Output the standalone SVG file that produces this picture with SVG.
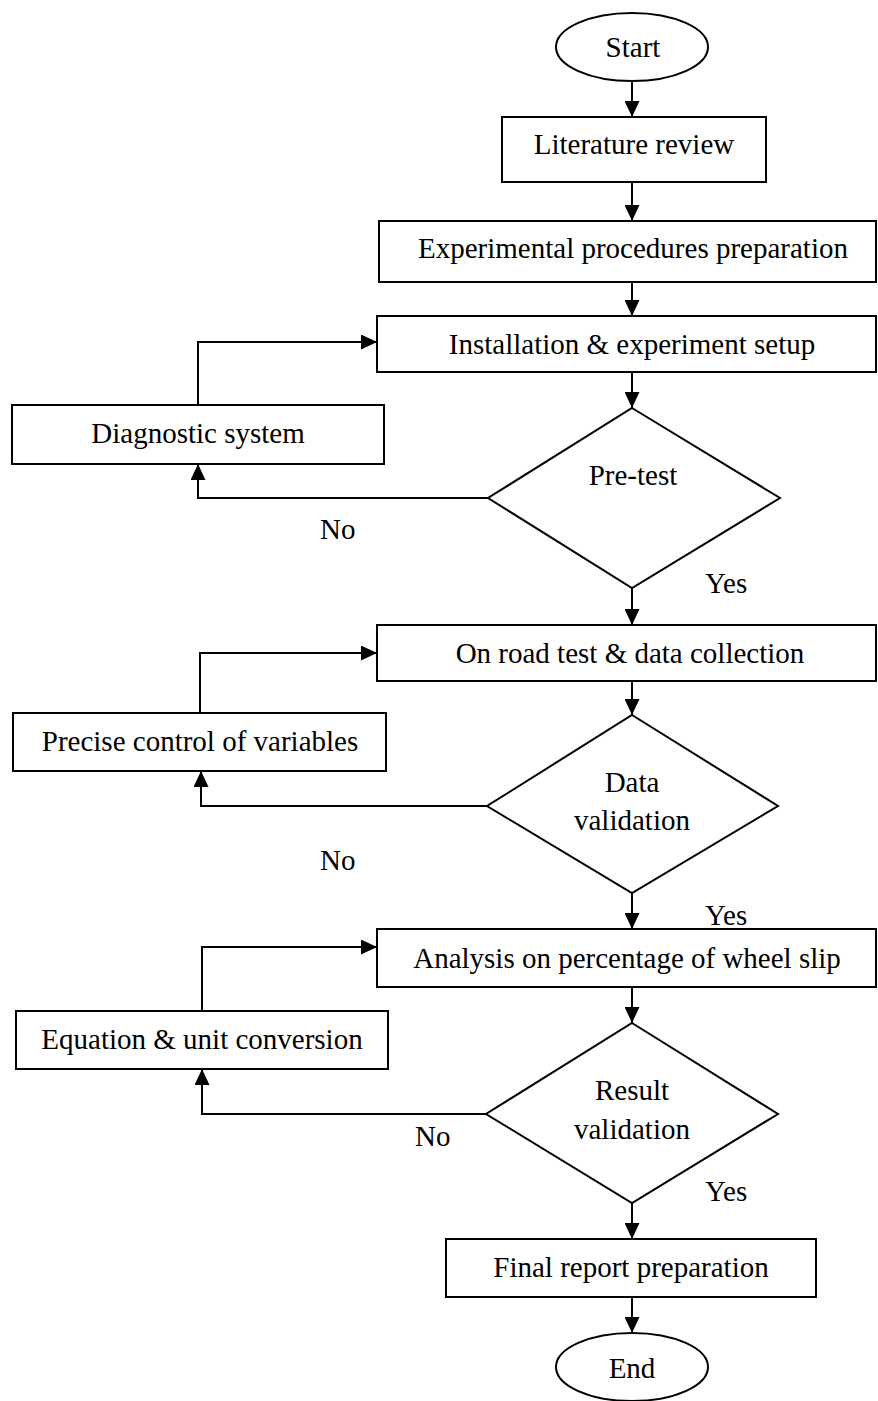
<svg xmlns="http://www.w3.org/2000/svg" width="878" height="1401" viewBox="0 0 878 1401">
<style>
.s{fill:#fff;stroke:#000;stroke-width:2}
.t{font-family:'Liberation Serif',serif;font-size:29px;fill:#000;text-anchor:middle}
.l{font-family:'Liberation Serif',serif;font-size:29px;fill:#000}
.c{fill:none;stroke:#000;stroke-width:2}
</style>
<defs>
<marker id="a" markerUnits="userSpaceOnUse" markerWidth="16" markerHeight="15" refX="16" refY="7.5" orient="auto">
<path d="M0,0 L16,7.5 L0,15 z" fill="#000"/>
</marker>
</defs>
<rect width="878" height="1401" fill="#fff"/>
<g id="connectors">
<path class="c" d="M632,81 V117" marker-end="url(#a)"/>
<path class="c" d="M632,182 V221" marker-end="url(#a)"/>
<path class="c" d="M632,282 V316" marker-end="url(#a)"/>
<path class="c" d="M632,372 V408" marker-end="url(#a)"/>
<path class="c" d="M488,498 H198 V464" marker-end="url(#a)"/>
<path class="c" d="M198,405 V342 H377" marker-end="url(#a)"/>
<path class="c" d="M632,588 V625" marker-end="url(#a)"/>
<path class="c" d="M632,681 V715" marker-end="url(#a)"/>
<path class="c" d="M487,806 H201 V771" marker-end="url(#a)"/>
<path class="c" d="M200,713 V653 H377" marker-end="url(#a)"/>
<path class="c" d="M632,893 V929" marker-end="url(#a)"/>
<path class="c" d="M632,987 V1023" marker-end="url(#a)"/>
<path class="c" d="M486,1114 H202 V1069" marker-end="url(#a)"/>
<path class="c" d="M202,1011 V947 H377" marker-end="url(#a)"/>
<path class="c" d="M632,1203 V1239" marker-end="url(#a)"/>
<path class="c" d="M632,1297 V1333" marker-end="url(#a)"/>
<text class="l" x="320" y="539">No</text>
<text class="l" x="705" y="593">Yes</text>
<text class="l" x="320" y="870">No</text>
<text class="l" x="705" y="925">Yes</text>
<text class="l" x="415" y="1146">No</text>
<text class="l" x="705" y="1201">Yes</text>
</g>
<g id="start"><ellipse class="s" cx="632" cy="47" rx="76" ry="34"/><text class="t" x="633" y="57">Start</text></g>
<g id="literature"><rect class="s" x="502" y="117" width="264" height="65"/><text class="t" x="634" y="154">Literature review</text></g>
<g id="experimental"><rect class="s" x="379" y="221" width="497" height="61"/><text class="t" x="633" y="258">Experimental procedures preparation</text></g>
<g id="installation"><rect class="s" x="377" y="316" width="499" height="56"/><text class="t" x="632" y="354">Installation &amp; experiment setup</text></g>
<g id="diagnostic"><rect class="s" x="12" y="405" width="372" height="59"/><text class="t" x="198" y="443">Diagnostic system</text></g>
<g id="pretest"><polygon class="s" points="632,408 780,498 632,588 488,498"/><text class="t" x="633" y="485">Pre-test</text></g>
<g id="onroad"><rect class="s" x="377" y="625" width="499" height="56"/><text class="t" x="630" y="663">On road test &amp; data collection</text></g>
<g id="precise"><rect class="s" x="13" y="713" width="373" height="58"/><text class="t" x="200" y="751">Precise control of variables</text></g>
<g id="datavalidation"><polygon class="s" points="632,715 778,806 632,893 487,806"/><text class="t" x="632" y="792">Data</text><text class="t" x="632" y="830">validation</text></g>
<g id="analysis"><rect class="s" x="377" y="929" width="499" height="58"/><text class="t" x="627" y="968">Analysis on percentage of wheel slip</text></g>
<g id="equation"><rect class="s" x="16" y="1011" width="372" height="58"/><text class="t" x="202" y="1049">Equation &amp; unit conversion</text></g>
<g id="resultvalidation"><polygon class="s" points="632,1023 778,1114 632,1203 486,1114"/><text class="t" x="632" y="1100">Result</text><text class="t" x="632" y="1139">validation</text></g>
<g id="final"><rect class="s" x="446" y="1239" width="370" height="58"/><text class="t" x="631" y="1277">Final report preparation</text></g>
<g id="end"><ellipse class="s" cx="632" cy="1367" rx="76" ry="34"/><text class="t" x="632" y="1378">End</text></g>
</svg>
